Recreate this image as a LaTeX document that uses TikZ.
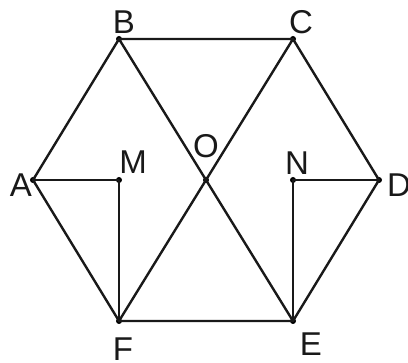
\documentclass[tikz,border=0pt]{standalone}
\usepackage{fontspec}
\setmainfont{Liberation Sans}
\usetikzlibrary{positioning}
\tikzset{
  hex point/.style={circle, inner sep=0pt, minimum size=6pt, fill=black},
  hex label/.style={font=\fontsize{33}{33}\selectfont, inner sep=0pt, text=black!90},
  hex line/.style={line width=2.4pt, draw=black!90, line join=round},
}

\begin{document}
\begin{tikzpicture}[x=1pt,y=-1pt]
  \useasboundingbox (0,0) rectangle (408,363);

  % vertices of the hexagon
  \node[hex point] (A) at (33,180) {};
  \node[hex point] (B) at (119,39) {};
  \node[hex point] (C) at (293,39) {};
  \node[hex point] (D) at (379,180) {};
  \node[hex point] (E) at (293,321) {};
  \node[hex point] (F) at (119,321) {};

  % inner points
  \node[hex point] (O) at (206,180) {};
  \node[hex point] (M) at (119,180) {};
  \node[hex point] (N) at (293,180) {};

  % labels
  \node[hex label] (lA) at ([shift={(-12,5)}]A) {A};
  \node[hex label] (lB) at ([shift={(5,-17)}]B) {B};
  \node[hex label] (lC) at ([shift={(8,-17)}]C) {C};
  \node[hex label] (lD) at ([shift={(20,5)}]D) {D};
  \node[hex label] (lE) at ([shift={(18,23)}]E) {E};
  \node[hex label] (lF) at ([shift={(4,28)}]F) {F};
  \node[hex label] (lO) at ([shift={(0,-34)}]O) {O};
  \node[hex label] (lM) at ([shift={(14,-18)}]M) {M};
  \node[hex label] (lN) at ([shift={(4,-17)}]N) {N};

  \draw[hex line] (A.center) -- (B.center) -- (C.center) -- (D.center)
    -- (E.center) -- (F.center) -- cycle;
  \draw[hex line] (B.center) -- (E.center);
  \draw[hex line] (C.center) -- (F.center);
  \draw[hex line] (A.center) -- (M.center) -- (F.center);
  \draw[hex line] (D.center) -- (N.center) -- (E.center);
\end{tikzpicture}
\end{document}
